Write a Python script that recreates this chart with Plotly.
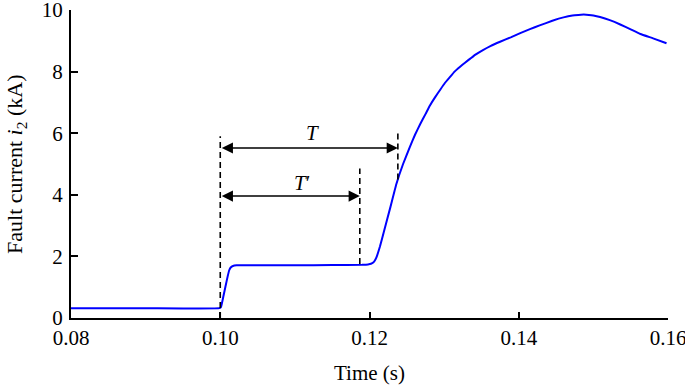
import plotly.graph_objects as go

# Fault current waveform
time_s = [0.080, 0.0900, 0.0999, 0.1001, 0.1004, 0.1007, 0.1010, 0.1012, 0.1014, 0.1017,
          0.1022, 0.1050, 0.1100, 0.1150, 0.1190, 0.1198, 0.1202, 0.1205, 0.1207, 0.1209,
          0.1214, 0.1219, 0.1228, 0.1236, 0.1245, 0.1254, 0.1261, 0.1268, 0.1275, 0.1281,
          0.1288, 0.1295, 0.1301, 0.1308, 0.1314, 0.1321, 0.1328, 0.1335, 0.1342, 0.1352,
          0.1362, 0.1375, 0.1390, 0.1402, 0.1415, 0.1428, 0.1445, 0.1460, 0.1472, 0.1480,
          0.1487, 0.1494, 0.1500, 0.1509, 0.1522, 0.1536, 0.1550, 0.1563, 0.1580, 0.1598]
current_kA = [0.32, 0.32, 0.32, 0.36, 0.68, 1.02, 1.36, 1.55, 1.64, 1.69,
              1.71, 1.71, 1.71, 1.72, 1.73, 1.74, 1.76, 1.80, 1.86, 1.95,
              2.32, 2.78, 3.60, 4.35, 5.00, 5.55, 5.95, 6.30, 6.62, 6.90,
              7.17, 7.42, 7.63, 7.83, 8.00, 8.15, 8.29, 8.42, 8.55, 8.70,
              8.83, 8.97, 9.12, 9.25, 9.38, 9.50, 9.65, 9.76, 9.82, 9.84,
              9.85, 9.84, 9.82, 9.77, 9.67, 9.53, 9.37, 9.22, 9.08, 8.92]

# Interval markers
t_start = 0.1000
t_end_T = 0.1238
t_end_Tp = 0.1187
guide_start_y = [0.0, 5.9]
guide_T_y = [4.5, 6.05]
guide_Tp_y = [1.75, 4.85]
arrow_T_y = 5.52
arrow_Tp_y = 3.96
labels = ["<i>T</i>", "<i>T</i>′"]
label_x = [0.1124, 0.1110]
label_y = [6.0, 4.38]

x_ticks = [0.08, 0.10, 0.12, 0.14, 0.16]
x_tick_text = ["0.08", "0.10", "0.12", "0.14", "0.16"]
y_ticks = [0, 2, 4, 6, 8, 10]

font_family = "Liberation Serif, Times New Roman, serif"

fig = go.Figure()
fig.add_trace(go.Scatter(x=time_s, y=current_kA, mode="lines",
                         line=dict(color="#0000ff", width=2, shape="spline", smoothing=0.3),
                         hoverinfo="skip", showlegend=False))

dash = dict(color="black", width=1.6, dash="6px,4px")
for xv, ys in [(t_start, guide_start_y), (t_end_T, guide_T_y), (t_end_Tp, guide_Tp_y)]:
    fig.add_trace(go.Scatter(x=[xv, xv], y=ys, mode="lines", line=dash,
                             hoverinfo="skip", showlegend=False))

for x_end, yv in [(t_end_T, arrow_T_y), (t_end_Tp, arrow_Tp_y)]:
    fig.add_annotation(x=x_end, y=yv, ax=t_start, ay=yv, xref="x", yref="y",
                       axref="x", ayref="y", showarrow=True, arrowhead=2,
                       arrowside="end+start", arrowsize=1.4, arrowwidth=1.6,
                       arrowcolor="black", text="")

for txt, lx, ly in zip(labels, label_x, label_y):
    fig.add_annotation(x=lx, y=ly, xref="x", yref="y", text=txt, showarrow=False,
                       font=dict(family=font_family, size=21, color="black"))

# Axis titles
fig.add_annotation(x=0.5, y=-0.1786, xref="paper", yref="paper", text="Time (s)",
                   showarrow=False, xanchor="center", yanchor="middle",
                   font=dict(family=font_family, size=21, color="black"))
fig.add_annotation(x=-0.0921, y=0.497, xref="paper", yref="paper",
                   text="Fault current <i>i</i><sub>2</sub> (kA)", textangle=-90,
                   showarrow=False, xanchor="center", yanchor="middle",
                   font=dict(family=font_family, size=22, color="black"))

fig.update_layout(
    width=685, height=385,
    margin=dict(l=71, r=17, t=10, b=67),
    paper_bgcolor="white", plot_bgcolor="white",
    font=dict(family=font_family, size=21, color="black"),
    xaxis=dict(range=[0.08, 0.16], tickvals=x_ticks, ticktext=x_tick_text,
               ticks="inside", ticklen=6, tickwidth=1.5, tickcolor="black",
               showline=True, linecolor="black", linewidth=2, showgrid=False,
               zeroline=False, automargin=False, ticklabeloverflow="allow",
               tickfont=dict(size=21)),
    yaxis=dict(range=[0, 10], tickvals=y_ticks,
               ticks="inside", ticklen=7, tickwidth=1.5, tickcolor="black",
               showline=True, linecolor="black", linewidth=2, showgrid=False,
               zeroline=False, automargin=False, ticklabelstandoff=2,
               ticklabeloverflow="allow", tickfont=dict(size=21)),
)

# remove the default page margin so the figure sits at the window's corner
fig.write_html("out.html", config={"displayModeBar": False},
               post_script="document.body.style.margin='0';")
